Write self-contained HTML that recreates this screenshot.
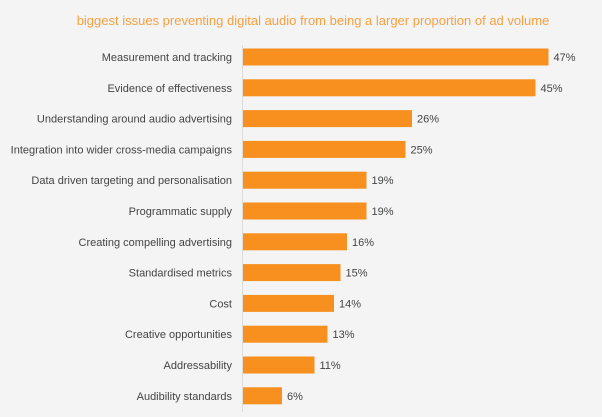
<!DOCTYPE html>
<html><head><meta charset="utf-8"><style>
html,body{margin:0;padding:0;background:#f4f4f4;}
svg{display:block;font-family:"Liberation Sans",sans-serif;}
</style></head><body>
<svg id="chart" width="602" height="417">
<rect width="602" height="417" fill="#f4f4f4"/>
<text x="313" y="25" text-anchor="middle" font-size="13" fill="#f7a040">biggest issues preventing digital audio from being a larger proportion of ad volume</text>
<line x1="242.5" y1="45" x2="242.5" y2="412" stroke="#dcdcdc" stroke-width="1"/>
<g id="bars"></g>
</svg>
<script>
const categories=["Measurement and tracking","Evidence of effectiveness","Understanding around audio advertising","Integration into wider cross-media campaigns","Data driven targeting and personalisation","Programmatic supply","Creating compelling advertising","Standardised metrics","Cost","Creative opportunities","Addressability","Audibility standards"];
const values=[47,45,26,25,19,19,16,15,14,13,11,6];
const valueLabels=["47%","45%","26%","25%","19%","19%","16%","15%","14%","13%","11%","6%"];
const x0=243, pxPer=6.5, y0=57, step=30.8, bh=17;
const xs=v=>x0+v*pxPer, ys=i=>y0+i*step;
const g=document.getElementById('bars'), NS="http://www.w3.org/2000/svg";
categories.forEach((c,i)=>{
  const cy=ys(i);
  const t=document.createElementNS(NS,'text');
  
  
  t.setAttribute('x',232);t.setAttribute('y',cy+4);t.setAttribute('text-anchor','end');
  t.setAttribute('font-size','11');t.setAttribute('fill','#444');t.textContent=c;g.appendChild(t);
  const r=document.createElementNS(NS,'rect');
  
  
  r.setAttribute('x',x0);r.setAttribute('y',cy-bh/2);r.setAttribute('width',xs(values[i])-x0);r.setAttribute('height',bh);
  r.setAttribute('fill','#f7901e');g.appendChild(r);
  const v=document.createElementNS(NS,'text');
  
  
  v.setAttribute('x',xs(values[i])+5);v.setAttribute('y',cy+4);
  v.setAttribute('font-size','11');v.setAttribute('fill','#444');v.textContent=valueLabels[i];g.appendChild(v);
});
</script>
</body></html>
